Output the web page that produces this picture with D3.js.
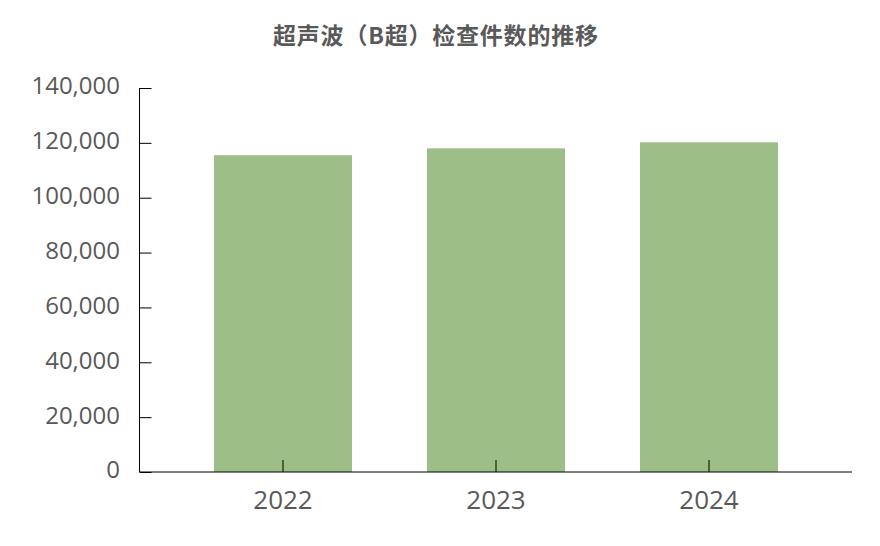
<!DOCTYPE html>
<html><head><meta charset="utf-8">
<script src="https://cdn.jsdelivr.net/npm/d3@7"></script>
<style>body{margin:0;background:#fff}</style>
</head><body>
<svg id="c" width="880" height="546"></svg>
<script>
const title = "超声波（B超）检查件数的推移";
const categories = ["2022", "2023", "2024"];
const values = [115500, 118000, 120200];
const yTicks = [0, 20000, 40000, 60000, 80000, 100000, 120000, 140000];

const svg = d3.select("#c");
const y = d3.scaleLinear().domain([0, 140000]).range([472, 88]);
const x = d3.scaleBand().domain(categories).range([176.5, 815.5]).paddingInner(0.352).paddingOuter(0.176);
const axisLeft = 139.5, axisRight = 852;

svg.append("text").attr("x", 435.5).attr("y", 38).attr("text-anchor", "middle")
  .attr("dominant-baseline", "middle")
  .attr("font-family", "'Noto Sans CJK SC'").attr("font-weight", "bold").attr("font-size", 23)
  .attr("fill", "#595959").attr("textLength", 325).attr("lengthAdjust", "spacing").text(title);

svg.selectAll("rect.bar").data(categories).join("rect").attr("class", "bar")
  .attr("x", d => x(d)).attr("width", x.bandwidth())
  .attr("y", (d, i) => y(values[i])).attr("height", (d, i) => y(0) - y(values[i]))
  .attr("fill", "#9DBF87");

// y axis
const ya = svg.append("g").attr("transform", `translate(${axisLeft},0)`)
  .call(d3.axisRight(y).tickValues(yTicks).tickSize(12).tickFormat(""));
ya.select(".domain").remove();
ya.selectAll("line").attr("stroke", "#000");
svg.append("line").attr("x1", axisLeft).attr("x2", axisLeft).attr("y1", y(140000)).attr("y2", y(0)).attr("stroke", "#000");
svg.selectAll("text.yl").data(yTicks).join("text").attr("class", "yl")
  .attr("x", 120).attr("y", d => y(d)).attr("text-anchor", "end").attr("dominant-baseline", "middle")
  .attr("font-family", "'Open Sans'").attr("font-size", 24).attr("fill", "#595959")
  .text(d => d3.format(",")(d));

// x axis
const xa = svg.append("g").attr("transform", `translate(0,${y(0)})`)
  .call(d3.axisTop(x).tickSize(12).tickFormat(""));
xa.select(".domain").remove();
xa.selectAll("line").attr("stroke", "#000");
svg.append("line").attr("x1", axisLeft).attr("x2", axisRight).attr("y1", y(0)).attr("y2", y(0)).attr("stroke", "#000");
svg.selectAll("text.xl").data(categories).join("text").attr("class", "xl")
  .attr("x", d => x(d) + x.bandwidth() / 2).attr("y", 502).attr("text-anchor", "middle").attr("dominant-baseline", "middle")
  .attr("font-family", "'Open Sans'").attr("font-size", 26).attr("fill", "#595959")
  .text(d => d);
</script>
</body></html>
